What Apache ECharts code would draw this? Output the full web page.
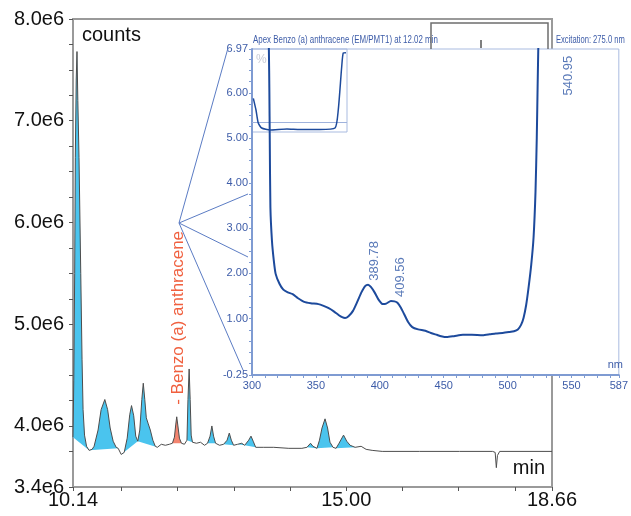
<!DOCTYPE html>
<html>
<head>
<meta charset="utf-8">
<script src="https://cdn.jsdelivr.net/npm/echarts@6/dist/echarts.min.js"></script>
<style>html,body{margin:0;padding:0;background:#fff;}#c{width:631px;height:516px;}</style>
</head>
<body>
<div id="c"></div>
<script>
// ---------- Chromatogram (main chart), counts in units of 1e6 ----------
const chromTime = [10.140,10.154,10.170,10.181,10.197,10.211,10.226,10.247,10.278,10.301,10.319,10.345,10.381,10.426,10.479,
10.515,10.586,10.640,10.706,10.756,10.801,10.854,10.908,10.944,10.997,11.051,11.104,11.149,11.181,11.220,11.256,11.292,
11.328,11.364,11.390,11.417,11.444,11.479,11.515,11.560,11.604,11.640,11.711,11.783,11.854,11.908,11.944,11.967,11.985,
12.006,12.033,12.069,12.122,12.167,12.185,12.206,12.224,12.242,12.265,12.336,12.408,12.479,12.533,12.578,12.610,12.640,
12.676,12.747,12.819,12.881,12.920,12.956,12.997,13.069,13.140,13.194,13.265,13.306,13.345,13.390,13.533,13.711,13.979,
14.211,14.301,14.365,14.408,14.479,14.524,14.569,14.623,14.668,14.711,14.765,14.819,14.872,14.952,15.009,15.069,15.158,
15.265,15.354,15.461,15.640,16.300,17.015,17.604,17.649,17.670,17.690,17.730,18.660];
const chromCounts = [3.89,4.45,5.50,6.64,7.40,7.68,7.20,6.64,5.50,4.65,4.16,3.91,3.80,3.76,3.77,
3.80,3.96,4.16,4.26,4.16,3.98,3.85,3.79,3.78,3.72,3.74,3.88,4.11,4.20,4.10,3.90,3.85,
3.96,4.26,4.42,4.26,4.08,4.02,3.96,3.86,3.80,3.79,3.82,3.81,3.82,3.83,3.89,4.01,4.09,
4.00,3.88,3.83,3.82,3.86,4.26,4.56,4.26,3.91,3.84,3.83,3.84,3.81,3.83,3.90,4.00,3.90,
3.83,3.81,3.82,3.86,3.93,3.86,3.81,3.82,3.83,3.81,3.86,3.90,3.85,3.79,3.79,3.79,3.78,
3.78,3.79,3.83,3.80,3.78,3.86,3.98,4.07,3.98,3.84,3.79,3.78,3.83,3.91,3.85,3.81,3.79,
3.80,3.77,3.76,3.75,3.75,3.75,3.75,3.74,3.59,3.71,3.75,3.75];
// integrated peaks: start / end time, kind (1 = target compound)
const peakStart = [10.140,10.426,10.997,11.292,11.908,12.167,12.533,12.819,13.069,13.194,14.301,14.479,14.819];
const peakEnd   = [10.426,10.944,11.292,11.640,12.069,12.265,12.676,12.997,13.194,13.390,14.479,14.765,15.158];
const peakKind  = [0,0,0,0,1,0,0,0,0,0,0,0,0];
const targetName = '- Benzo (a) anthracene';
const targetApex = [11.985, 4.09];
const xLabelValues = [10.14, 15.00, 18.66];
const xTickValues = [10.14, 11, 12, 13, 14, 15, 16, 17, 18, 18.66];
const yLabelValues = [3.4, 4.0, 5.0, 6.0, 7.0, 8.0];
const yTickValues = [3.4,3.75,4.0,4.25,4.5,4.75,5.0,5.25,5.5,5.75,6.0,6.25,6.5,6.75,7.0,7.25,7.5,7.75,8.0];

// ---------- Emission spectrum (inset) ----------
const specNm = [312.5,313.2,313.6,313.9,314.4,315.6,317,318.5,321.5,324.5,328,331.8,336,340.8,346,352,356,360,364,367.7,
370.5,372.8,375.5,379,382.5,385.6,388.5,390.8,393,395.9,399,402.3,405,408.7,411.5,413.8,416.5,419,422,425.4,430,435.6,
440,444.6,448,452.3,458,465,472,480.5,486,490.8,496,501,505,508,510.5,512.5,514.5,516.4,518.5,520.3,521.8,522.8,523.5,524,524.5];
const specVal = [7.5,6.97,6.0,4.95,3.46,2.73,2.3,1.99,1.77,1.64,1.58,1.54,1.45,1.37,1.34,1.32,1.28,1.23,1.16,1.08,
1.03,1.01,1.05,1.17,1.38,1.58,1.72,1.75,1.70,1.58,1.42,1.32,1.33,1.39,1.38,1.35,1.24,1.10,0.93,0.81,0.76,0.73,
0.68,0.64,0.61,0.59,0.61,0.64,0.64,0.63,0.65,0.67,0.68,0.70,0.72,0.76,0.86,1.02,1.30,1.69,2.2,2.80,3.8,5.0,6.2,7.0,7.6];
const specPeakNm = [389.78, 409.56, 540.95];
const specPeakVal = [1.75, 1.39, 5.85];
const insetXLabels = [300,350,400,450,500,550,587];
const insetYLabels = [-0.25,1,2,3,4,5,6,6.97];
const insetTitle = 'Apex Benzo (a) anthracene (EM/PMT1) at 12.02 min';
const insetExcitation = 'Excitation: 275.0 nm';
// overview thumbnail (percent scale)
const miniX = [1.4,4.2,6.6,10.2,18.9,36.8,50.5,71.6,87.4,90.8,94.4,96.1,98.9];
const miniY = [40.6,26.5,10.8,4.8,2.4,3.6,3.0,3.0,4.8,26.5,78.3,95.2,95.5];
const miniCursor = 12;

const CYAN = '#4ac4ee', SALMON = '#f3846f', BLUE_TXT = '#3d5ca8', SPEC = '#1d4a9c';
const MAIN_FONT = '"Liberation Sans", Arial, sans-serif';

const xInsetTicks = [];
for (let v = 300; v <= 580; v += 10) xInsetTicks.push(v);
xInsetTicks.push(587);
const yInsetTicks = [];
for (let v = -0.25; v <= 6.8; v += 0.25) yInsetTicks.push(+v.toFixed(2));
yInsetTicks.push(6.97);

const chart = echarts.init(document.getElementById('c'), null, {renderer: 'canvas'});
chart.setOption({
  animation: false,
  backgroundColor: '#fff',
  grid: [
    {left: 73, top: 19, width: 479, height: 468, show: true, borderColor: '#9a9a9a', borderWidth: 2, backgroundColor: 'transparent', z: 0},
    {left: 252, top: 49, width: 373, height: 326, show: true, borderColor: '#a9bbe0', borderWidth: 1, backgroundColor: '#fff', z: 1},
    {left: 252, top: 49, width: 95, height: 83, show: true, borderColor: '#a9bbe0', borderWidth: 1, backgroundColor: 'transparent', z: 2}
  ],
  xAxis: [
    {type: 'value', gridIndex: 0, min: 10.14, max: 18.66,
     axisLine: {show: false}, splitLine: {show: false},
     axisTick: {show: true, customValues: xTickValues, length: 4, lineStyle: {color: '#555', width: 1}},
     axisLabel: {customValues: xLabelValues, formatter: v => v.toFixed(2), color: '#111', fontSize: 20, fontFamily: MAIN_FONT, margin: 3}},
    {type: 'value', gridIndex: 1, min: 300, max: 587, z: 3,
     axisLine: {show: true, onZero: false, lineStyle: {color: '#7f9bd2', width: 2}}, splitLine: {show: false},
     axisTick: {show: true, customValues: xInsetTicks, length: 3, lineStyle: {color: '#7f9bd2'}},
     axisLabel: {customValues: insetXLabels, formatter: v => String(v), color: BLUE_TXT, fontSize: 11, fontFamily: MAIN_FONT, margin: 5}},
    {type: 'value', gridIndex: 2, min: 0, max: 100, show: false}
  ],
  yAxis: [
    {type: 'value', gridIndex: 0, min: 3.4, max: 8.0,
     axisLine: {show: false}, splitLine: {show: false},
     axisTick: {show: true, customValues: yTickValues, length: 4, lineStyle: {color: '#555', width: 1}},
     axisLabel: {customValues: yLabelValues, formatter: v => v.toFixed(1) + 'e6', color: '#111', fontSize: 20, fontFamily: MAIN_FONT, margin: 9}},
    {type: 'value', gridIndex: 1, min: -0.25, max: 6.97, z: 3,
     axisLine: {show: true, onZero: false, lineStyle: {color: '#7f9bd2', width: 2}}, splitLine: {show: false},
     axisTick: {show: true, customValues: yInsetTicks, length: 3, lineStyle: {color: '#7f9bd2'}},
     axisLabel: {customValues: insetYLabels, formatter: v => v.toFixed(2), color: BLUE_TXT, fontSize: 11, fontFamily: MAIN_FONT, margin: 4}},
    {type: 'value', gridIndex: 2, min: 0, max: 100, show: false}
  ],
  series: [
    {type: 'custom', xAxisIndex: 0, yAxisIndex: 0, z: 2,
     data: peakStart.map((s, i) => [s, peakEnd[i], peakKind[i]]),
     encode: {x: [0, 1]},
     renderItem: (params, api) => {
       const t0 = api.value(0), t1 = api.value(1), k = api.value(2);
       const pts = [];
       for (let i = 0; i < chromTime.length; i++) {
         if (chromTime[i] >= t0 - 1e-6 && chromTime[i] <= t1 + 1e-6) pts.push(api.coord([chromTime[i], chromCounts[i]]));
       }
       return {type: 'polygon', shape: {points: pts}, style: {fill: k ? SALMON : CYAN}};
     }},
    {type: 'line', xAxisIndex: 0, yAxisIndex: 0, z: 3, symbol: 'none',
     data: chromTime.map((t, i) => [t, chromCounts[i]]),
     lineStyle: {color: '#4d4d4d', width: 1},
     markPoint: {symbol: 'circle', symbolSize: 0, data: [{coord: targetApex}],
       label: {show: true, formatter: targetName, position: 'top', distance: 12, rotate: 90, align: 'left', verticalAlign: 'middle',
               offset: [0, 2], color: '#f0603f', fontSize: 17, fontFamily: MAIN_FONT}}},
    {type: 'line', xAxisIndex: 1, yAxisIndex: 1, z: 5, symbol: 'none', smooth: 0.2, clip: true,
     data: specNm.map((n, i) => [n, specVal[i]]),
     lineStyle: {color: SPEC, width: 2}},
    {type: 'scatter', xAxisIndex: 1, yAxisIndex: 1, z: 6, symbolSize: 0,
     data: specPeakNm.map((n, i) => [n, specPeakVal[i]]),
     label: {show: true, formatter: p => p.value[0].toFixed(2), position: 'top', distance: 4, rotate: 90, align: 'left', verticalAlign: 'middle',
             offset: [0, 8], color: '#2f58a6', fontSize: 13, fontFamily: MAIN_FONT}},
    {type: 'line', xAxisIndex: 2, yAxisIndex: 2, z: 5, symbol: 'none', smooth: 0.2,
     data: miniX.map((x, i) => [x, miniY[i]]),
     lineStyle: {color: SPEC, width: 1.5},
     markLine: {silent: true, symbol: 'none', label: {show: false}, lineStyle: {color: '#9fb2dc', width: 1, type: 'solid'},
                data: [{yAxis: miniCursor}]}}
  ],
  graphic: [
    {type: 'text', z: 10, style: {text: 'counts', x: 82, y: 35, textVerticalAlign: 'middle', fill: '#111', font: '20px ' + MAIN_FONT}},
    {type: 'text', z: 10, style: {text: 'min', x: 545, y: 468, textAlign: 'right', textVerticalAlign: 'middle', fill: '#111', font: '20px ' + MAIN_FONT}},
    {type: 'text', z: 10, x: 253, y: 40, scaleX: 0.72, style: {text: insetTitle, x: 0, y: 0, textVerticalAlign: 'middle', fill: BLUE_TXT, font: '11px ' + MAIN_FONT}},
    {type: 'text', z: 10, x: 556, y: 40, scaleX: 0.69, style: {text: insetExcitation, x: 0, y: 0, textVerticalAlign: 'middle', fill: BLUE_TXT, font: '11px ' + MAIN_FONT}},
    {type: 'text', z: 10, style: {text: 'nm', x: 623, y: 365, textAlign: 'right', textVerticalAlign: 'middle', fill: BLUE_TXT, font: '11px ' + MAIN_FONT}},
    {type: 'text', z: 10, style: {text: '%', x: 256, y: 60, textVerticalAlign: 'middle', fill: '#c9ccd6', font: '12px ' + MAIN_FONT}},
    {type: 'polyline', z: 10, shape: {points: [[431, 49], [431, 23], [548, 23], [548, 49]]}, style: {stroke: '#6e6e6e', lineWidth: 1.5, fill: null}},
    {type: 'line', z: 10, shape: {x1: 481, y1: 40, x2: 481, y2: 48}, style: {stroke: '#555', lineWidth: 1.5}},
    {type: 'line', z: 10, shape: {x1: 179, y1: 223, x2: 228, y2: 48}, style: {stroke: '#5b7cc4', lineWidth: 1}},
    {type: 'line', z: 10, shape: {x1: 179, y1: 223, x2: 248, y2: 194}, style: {stroke: '#5b7cc4', lineWidth: 1}},
    {type: 'line', z: 10, shape: {x1: 179, y1: 223, x2: 248, y2: 257}, style: {stroke: '#5b7cc4', lineWidth: 1}},
    {type: 'line', z: 10, shape: {x1: 179, y1: 223, x2: 243, y2: 370}, style: {stroke: '#5b7cc4', lineWidth: 1}}
  ]
});
</script>
</body>
</html>
